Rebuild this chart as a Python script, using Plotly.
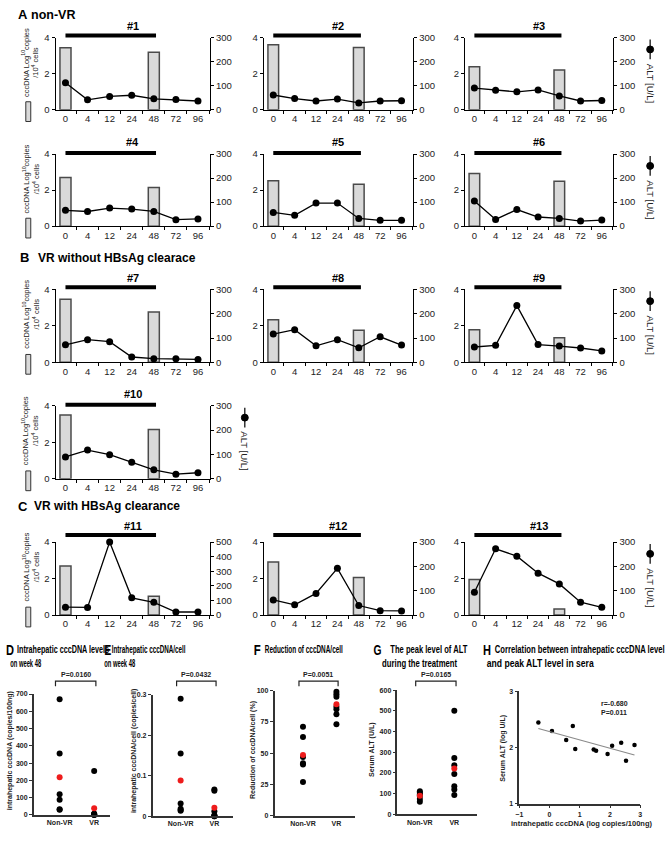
import json
import plotly.graph_objects as go
import numpy as np

W, H = 668, 854

# ---------------- data ----------------
WEEKS = ["0", "4", "12", "24", "48", "72", "96"]
BIOPSY_WEEKS = ["0", "48"]
TREATMENT = ["0", "48"]
PATIENTS = ["#1", "#2", "#3", "#4", "#5", "#6", "#7", "#8", "#9", "#10", "#11", "#12", "#13"]
CCCDNA_WEEK0 = [3.43, 3.60, 2.38, 2.70, 2.52, 2.92, 3.45, 2.33, 1.78, 3.50, 2.68, 2.90, 1.95]
CCCDNA_WEEK48 = [3.18, 3.45, 2.20, 2.15, 2.32, 2.49, 2.76, 1.76, 1.35, 2.70, 1.03, 2.05, 0.33]
ALT_1 = [112, 41, 55, 60, 45, 42, 36]
ALT_2 = [61, 46, 36, 44, 28, 36, 37]
ALT_3 = [90, 81, 74, 82, 57, 36, 38]
ALT_4 = [66, 61, 75, 71, 61, 27, 30]
ALT_5 = [57, 45, 96, 96, 32, 24, 24]
ALT_6 = [105, 28, 69, 38, 32, 21, 25]
ALT_7 = [72, 93, 85, 22, 15, 15, 12]
ALT_8 = [116, 134, 68, 93, 60, 105, 71]
ALT_9 = [63, 70, 233, 73, 67, 59, 47]
ALT_10 = [90, 118, 99, 68, 37, 19, 25]
ALT_11 = [54, 52, 500, 118, 87, 21, 21]
ALT_12 = [62, 42, 89, 192, 39, 18, 17]
ALT_13 = [94, 272, 242, 172, 128, 53, 32]
ALT = [ALT_1, ALT_2, ALT_3, ALT_4, ALT_5, ALT_6, ALT_7, ALT_8, ALT_9, ALT_10, ALT_11, ALT_12, ALT_13]

GROUPS = ["Non-VR", "VR"]
D_NONVR = [670, 355, 120, 88, 33, 30]
D_VR = [255, 7, 6, 3.5, 1.2, 0.4, 0]
D_MEAN = [218, 39]
E_NONVR = [0.29, 0.155, 0.031, 0.018, 0.015, 0.013]
E_VR = [0.066, 0.063, 0.012, 0.002, 0.001, 0.0, 0.0]
E_MEAN = [0.088, 0.021]
F_NONVR = [71, 63, 47, 42, 41, 27]
F_VR = [99, 97, 95, 87, 85, 81, 73]
F_MEAN = [48.5, 89]
G_NONVR = [112, 105, 96, 90, 75, 61]
G_VR = [500, 272, 237, 195, 136, 120, 94]
G_MEAN = [90, 222]
P_VALUES = ["P=0.0160", "P=0.0432", "P=0.0051", "P=0.0165"]
H_X = [-0.37, 0.08, 0.55, 0.77, 0.85, 1.46, 1.54, 1.92, 2.07, 2.37, 2.53, 2.81]
H_Y = [2.44, 2.29, 2.13, 2.38, 1.97, 1.96, 1.94, 1.88, 2.03, 2.08, 1.76, 2.04]
H_STATS = ["r=-0.680", "P=0.011"]

# ---------------- helpers ----------------
FONT = "Liberation Sans, Arial, sans-serif"


def fx(x):
    return x / W


def fy(y):
    return 1 - y / H


def key(prefix, n):
    return prefix if n == 1 else f"{prefix}{n}"


def ref(prefix, n):
    return prefix if n == 1 else f"{prefix}{n}"


fig = go.Figure()
layout = {}
annotations = []
shapes = []


def note(text, x, y, size, bold=False, xanchor="left", angle=0, color="black"):
    annotations.append(dict(text=text, x=fx(x), y=fy(y), xref="paper", yref="paper",
                            showarrow=False, xanchor=xanchor, yanchor="middle",
                            textangle=angle,
                            font=dict(family=FONT, size=size, color=color,
                                      weight="bold" if bold else "normal")))


TICKFONT = dict(family=FONT, size=9.5, color="#222")

COLS = [(52, 208), (262, 413), (465, 615)]
ROWS = [  # title_y, bar_y, top, bottom
    (20, 30, 32, 105),
    (138, 149, 150, 223),
    (276, 285, 287, 361),
    (393, 404, 405, 479),
    (527, 536, 543, 617),
]
GRID = [(0, 0), (0, 1), (0, 2), (1, 0), (1, 1), (1, 2), (2, 0), (2, 1), (2, 2),
        (3, 0), (4, 0), (4, 1), (4, 2)]

for i, p in enumerate(PATIENTS):
    r, c = GRID[i]
    ty, by, top, bot = ROWS[r]
    x0, x1 = COLS[c]
    nx, nyl, nyr = i + 1, i + 1, i + 14
    xa, yl, yr = ref("x", nx), ref("y", nyl), ref("y", nyr)
    alt = ALT[i]
    fig.add_trace(go.Bar(x=BIOPSY_WEEKS, y=[CCCDNA_WEEK0[i], CCCDNA_WEEK48[i]],
                         xaxis=xa, yaxis=yl, width=0.5,
                         marker=dict(color="#d9d9d9", line=dict(color="#4a4a4a", width=1.5))))
    fig.add_trace(go.Scatter(x=WEEKS, y=alt, xaxis=xa, yaxis=yr, mode="lines+markers",
                             line=dict(color="black", width=1.3),
                             marker=dict(color="black", size=7), cliponaxis=False))
    layout[key("xaxis", nx)] = dict(domain=[fx(x0), fx(x1)], anchor=yl, type="category",
                                    categoryorder="array", categoryarray=WEEKS,
                                    range=[-0.45, 6.55], showline=True, linecolor="black",
                                    linewidth=1, ticks="outside", tickson="boundaries",
                                    ticklen=3, tickcolor="black", tickfont=TICKFONT,
                                    showgrid=False, zeroline=False, fixedrange=True)
    layout[key("yaxis", nyl)] = dict(domain=[fy(bot), fy(top)], anchor=xa, range=[0, 4],
                                     tickvals=[0, 2, 4], showline=True, linecolor="black",
                                     linewidth=1, ticks="outside", ticklen=3,
                                     tickcolor="black", tickfont=TICKFONT, showgrid=False,
                                     zeroline=False, fixedrange=True)
    ymax = 500 if max(alt) > 300 else 300
    layout[key("yaxis", nyr)] = dict(overlaying=yl, side="right", anchor=xa,
                                     range=[0, ymax], dtick=100, showline=True,
                                     linecolor="black", linewidth=1, ticks="outside",
                                     ticklen=3, tickcolor="black", tickfont=TICKFONT,
                                     showgrid=False, zeroline=False, fixedrange=True)
    shapes.append(dict(type="line", xref=xa, yref="paper",
                       x0=WEEKS.index(TREATMENT[0]), x1=WEEKS.index(TREATMENT[1]) + 0.1,
                       y0=fy(by), y1=fy(by), line=dict(color="black", width=4)))
    note(f"<b>{p}</b>", (x0 + x1) / 2, ty, 11, xanchor="center")
    if c == 0:
        note("cccDNA Log<sup>10</sup>copies<br>/10<sup>4</sup> cells", 27, top + 25, 7.5,
             xanchor="center", angle=-90, color="#222")
        shapes.append(dict(type="rect", xref="paper", yref="paper",
                           x0=fx(22), x1=fx(27), y0=fy(bot + 12), y1=fy(bot - 8),
                           fillcolor="#d9d9d9", line=dict(color="#333", width=1)))
    if c == 2 or p == "#10":
        lx = 652 if c == 2 else 243
        shapes.append(dict(type="line", xref="paper", yref="paper", x0=fx(lx), x1=fx(lx),
                           y0=fy(top + 2), y1=fy(top + 22), line=dict(color="black", width=1.2)))
        shapes.append(dict(type="circle", xref="paper", yref="paper",
                           x0=fx(lx - 3.5), x1=fx(lx + 3.5), y0=fy(top + 15.5), y1=fy(top + 8.5),
                           fillcolor="black", line=dict(color="black", width=1)))
        note("ALT [U/L]", lx, top + 46, 9.5, xanchor="center", angle=90, color="#222")

# section titles
note("<b>A</b>", 12, 9, 13)
note("<b>non-VR</b>", 25, 9, 12.5)
note("<b>B</b>", 14, 255, 13)
note("<b>VR without HBsAg clearace</b>", 32, 255, 12)
note("<b>C</b>", 12, 507, 13)
note("<b>VR with HBsAg clearance</b>", 28, 507, 12)

# ---------------- bottom panels ----------------
BFONT = dict(family=FONT, size=7, color="#222", weight="bold")
BOTTOM = [
    ((30, 107), (697, 819.5), [-0.75, 1.46], [0, 700], list(range(0, 701, 100)), None),
    ((150, 231), (697.7, 820.7), [-0.83, 1.55], [0, 0.3], [0, 0.1, 0.2, 0.3], ["0", "0.1", "0.2", "0.3"]),
    ((273, 354), (693.5, 820.3), [-0.85, 1.55], [0, 100], [0, 25, 50, 75, 100], None),
    ((397, 477), (693, 819), [-0.65, 1.65], [0, 600], list(range(0, 601, 100)), None),
]
SERIES = [(D_NONVR, D_VR, D_MEAN), (E_NONVR, E_VR, E_MEAN), (F_NONVR, F_VR, F_MEAN),
          (G_NONVR, G_VR, G_MEAN)]
YTITLES = ["intrahepatic cccDNA (copies/100ng)", "intrahepatic cccDNA/cell (copies/cell)",
           "Reduction of cccDNA/cell (%)", "Serum ALT (U/L)"]
YTITLE_X = [6, 131, 252, 372]

for j, ((xd, yd, xr, yrng, tv, tt), (nv, vr, mean)) in enumerate(zip(BOTTOM, SERIES)):
    n = 27 + j
    nxx = 14 + j
    xa, ya = ref("x", nxx), ref("y", n)
    fig.add_trace(go.Scatter(x=[GROUPS[0]] * len(nv), y=nv, xaxis=xa, yaxis=ya, mode="markers",
                             marker=dict(color="black", size=6), cliponaxis=False))
    fig.add_trace(go.Scatter(x=[GROUPS[1]] * len(vr), y=vr, xaxis=xa, yaxis=ya, mode="markers",
                             marker=dict(color="black", size=6), cliponaxis=False))
    fig.add_trace(go.Scatter(x=GROUPS, y=mean, xaxis=xa, yaxis=ya, mode="markers",
                             marker=dict(color="#ee1c1c", size=6), cliponaxis=False))
    layout[key("xaxis", nxx)] = dict(domain=[fx(xd[0]), fx(xd[1])], anchor=ya, type="category",
                                     categoryorder="array", categoryarray=GROUPS, range=xr,
                                     showline=True, linecolor="#333", linewidth=1.5,
                                     ticks="", tickfont=BFONT, showgrid=False, zeroline=False,
                                     fixedrange=True)
    yax = dict(domain=[fy(yd[1]), fy(yd[0])], anchor=xa, range=yrng, tickvals=tv,
               showline=True, linecolor="#333", linewidth=1.5, ticks="outside", ticklen=3,
               tickcolor="#333", tickfont=BFONT, showgrid=False, zeroline=False,
               fixedrange=True)
    if tt:
        yax["ticktext"] = tt
    layout[key("yaxis", n)] = yax
    shapes.append(dict(type="path", xref=xa, yref="paper",
                       path=f"M -0.12,{fy(689)} L -0.12,{fy(684)} L 1.05,{fy(684)} L 1.05,{fy(689)}",
                       line=dict(color="#222", width=1.2)))
    annotations.append(dict(text=P_VALUES[j], x=0.46, y=fy(677), xref=xa, yref="paper",
                            showarrow=False, xanchor="center", yanchor="middle",
                            font=dict(family=FONT, size=7, color="#222", weight="bold")))
    note(YTITLES[j], YTITLE_X[j], 754, 7, bold=True, xanchor="center", angle=-90, color="#222")

# H panel
fig.add_trace(go.Scatter(x=H_X, y=H_Y, xaxis="x18", yaxis="y31", mode="markers",
                         marker=dict(color="black", size=4.5), cliponaxis=False))
slope, icpt = np.polyfit(H_X, H_Y, 1)
fit_x = [min(H_X), max(H_X)]
fig.add_trace(go.Scatter(x=fit_x, y=[slope * v + icpt for v in fit_x], xaxis="x18", yaxis="y31",
                         mode="lines", line=dict(color="#8a8a8a", width=1.2)))
layout["xaxis18"] = dict(domain=[fx(520), fx(642)], anchor="y31", range=[-1, 3], dtick=1,
                         showline=True, linecolor="#333", linewidth=1.5, ticks="outside",
                         ticklen=3, tickcolor="#333", tickfont=BFONT, showgrid=False,
                         zeroline=False, fixedrange=True)
layout["yaxis31"] = dict(domain=[fy(808), fy(694)], anchor="x18", range=[1, 3], dtick=1,
                         showline=True, linecolor="#333", linewidth=1.5, ticks="outside",
                         ticklen=3, tickcolor="#333", tickfont=BFONT, showgrid=False,
                         zeroline=False, fixedrange=True)
note(H_STATS[0], 600, 707, 7, bold=True, color="#222")
note(H_STATS[1], 600, 716, 7, bold=True, color="#222")
note("Serum ALT (log U/L)", 504, 752, 7, bold=True, xanchor="center", angle=-90, color="#222")
note("intrahepatic cccDNA (log copies/100ng)", 583, 828, 7.5, bold=True, xanchor="center",
     color="#222")

# bottom titles (condensed: text, centre x, y, font size, width in px)
TB = 10
TITLE_ITEMS = [
    ("D", 6, 652, 14, 8), ("Intrahepatic cccDNA levels", 60, 652, TB, 92),
    ("on week 48", 22.5, 666, TB, 31),
    ("E", 104, 652, 14, 7), ("Intrahepatic cccDNA/cell", 146, 652, TB, 74),
    ("on week 48", 117.5, 666, TB, 31),
    ("F", 256, 652, 14, 7), ("Reduction of cccDNA/cell", 303, 652, TB, 78),
    ("G", 376.5, 652, 14, 8), ("The peak level of ALT", 428.5, 652, TB, 77),
    ("during the treatment", 419.5, 666, TB, 75),
    ("H", 487.5, 652, 14, 8), ("Correlation between intrahepatic cccDNA level", 581, 652, TB, 170),
    ("and peak ALT level in sera", 541.5, 666, TB, 107),
]
fit_widths = {}
for txt, cx, cy, sz, wd in TITLE_ITEMS:
    note(txt, cx, cy, sz, bold=True, xanchor="center")
    fit_widths[txt] = wd

fig.update_layout(**layout)
fig.update_layout(width=W, height=H, margin=dict(l=0, r=0, t=0, b=0),
                  paper_bgcolor="white", plot_bgcolor="white", showlegend=False,
                  annotations=annotations, shapes=shapes, font=dict(family=FONT),
                  bargap=0.5)

POST = """
document.body.style.margin = '0';
var gd = document.getElementById('{plot_id}');
var T = %s;
gd.querySelectorAll('text.annotation-text').forEach(function (t) {
  var s = t.textContent;
  if (T.hasOwnProperty(s)) {
    t.setAttribute('textLength', T[s]);
    t.setAttribute('lengthAdjust', 'spacingAndGlyphs');
    var rect = t.parentNode ? t.parentNode.querySelector('rect.bg') : null;
    if (rect) {
      var w0 = parseFloat(rect.getAttribute('width'));
      var x0 = parseFloat(rect.getAttribute('x')) || 0;
      var nw = T[s] + 2;
      if (w0 > nw) {
        rect.setAttribute('x', x0 + (w0 - nw) / 2);
        rect.setAttribute('width', nw);
      }
    }
  }
});
""" % json.dumps(fit_widths)

fig.write_html("out.html", post_script=POST, config={"displayModeBar": False})
